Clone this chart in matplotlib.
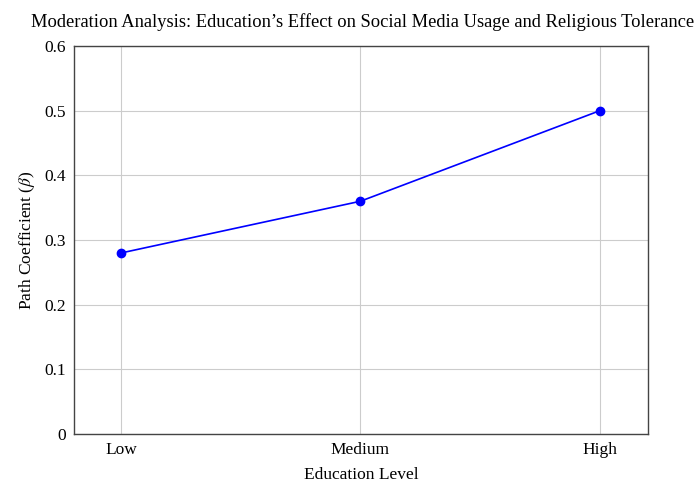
import matplotlib.pyplot as plt

education = ['Low', 'Medium', 'High']
beta = [0.28, 0.36, 0.50]
yticks = [0, 0.1, 0.2, 0.3, 0.4, 0.5, 0.6]

plt.rcParams['font.family'] = 'Liberation Serif'
plt.rcParams['mathtext.fontset'] = 'stix'

fig = plt.figure(figsize=(6.95, 4.84), dpi=100)
ax = fig.add_axes([0.1065, 0.103, 0.8255, 0.802])

x = range(len(education))
ax.plot(x, beta, color='blue', marker='o', markersize=6, linewidth=1.2)

ax.set_xticks(list(x))
ax.set_xticklabels(education, fontsize=12.5)
ax.set_yticks(yticks)
ax.set_yticklabels([str(v) for v in yticks], fontsize=12.5)
ax.set_xlim(-0.196, 2.2)
ax.set_ylim(0, 0.6)
ax.grid(True, color='#cccccc', linewidth=0.8)
ax.tick_params(direction='in', length=0, pad=6)
for s in ax.spines.values():
    s.set_linewidth(1.0)
    s.set_color('#444444')

ax.set_xlabel('Education Level', fontsize=12.5, labelpad=6)
ax.set_ylabel(r'Path Coefficient ($\beta$)', fontsize=12.5, labelpad=5)
ax.set_title('Moderation Analysis: Education\u2019s Effect on Social Media Usage and Religious Tolerance',
             fontsize=13.3, pad=14, x=0.5025)

fig.savefig('out.png', dpi=100)
